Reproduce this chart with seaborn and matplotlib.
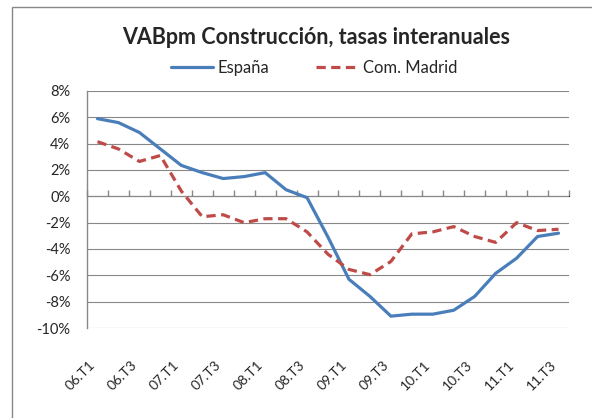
"""
VABpm Construcción: tasas interanuales, España vs Com. Madrid.
"""
import matplotlib
matplotlib.use("Agg")
import numpy as np
import pandas as pd
import matplotlib.pyplot as plt
import matplotlib.patches as mpatches
import seaborn as sns

# Datos (%)
periodos = ["06.T1", "06.T2", "06.T3", "06.T4", "07.T1", "07.T2", "07.T3", "07.T4",
            "08.T1", "08.T2", "08.T3", "08.T4", "09.T1", "09.T2", "09.T3", "09.T4",
            "10.T1", "10.T2", "10.T3", "10.T4", "11.T1", "11.T2", "11.T3"]
espana = [5.9, 5.6, 4.85, 3.6, 2.35, 1.8, 1.35, 1.5, 1.8, 0.5, -0.1, -3.1,
          -6.3, -7.6, -9.1, -8.95, -8.95, -8.65, -7.6, -5.85, -4.7, -3.05, -2.8]
madrid = [4.15, 3.6, 2.65, 3.1, 0.4, -1.55, -1.4, -2.0, -1.7, -1.7, -2.7, -4.4,
          -5.55, -5.95, -4.95, -2.85, -2.7, -2.3, -3.05, -3.5, -2.0, -2.6, -2.5]
series = ["España", "Com. Madrid"]
yticks = [-10, -8, -6, -4, -2, 0, 2, 4, 6, 8]

GRIS = "#888888"
COLORES = {"España": "#4A7EBB", "Com. Madrid": "#BE4B48"}

df = pd.DataFrame({
    "periodo": periodos * 2,
    "serie": [series[0]] * len(periodos) + [series[1]] * len(periodos),
    "valor": espana + madrid,
})

sns.set_style("white")
plt.rcParams["font.family"] = ["Lato", "DejaVu Sans"]

W, H = 592, 418
fig = plt.figure(figsize=(W / 100, H / 100), dpi=100)
ax = fig.add_axes([87 / W, 1 - 328 / H, (569 - 87) / W, (328 - 91) / H])

sns.lineplot(
    data=df, x="periodo", y="valor", hue="serie", style="serie",
    palette=COLORES, dashes={"España": "", "Com. Madrid": (2.9, 1.7)},
    sort=False, linewidth=2.3, ax=ax, legend=True,
)

# Ejes
ymin, ymax = yticks[0], yticks[-1]
ax.set_ylim(ymin, ymax)
ax.set_xlim(-0.5, len(periodos) - 0.5)
ax.set_xlabel("")
ax.set_ylabel("")
ax.set_yticks(yticks)
ax.set_yticklabels([f"{v}%" for v in yticks], fontsize=10.5)
ax.yaxis.grid(True, color=GRIS, linewidth=0.8)
ax.set_axisbelow(True)
ax.tick_params(axis="y", direction="out", length=4, color=GRIS, pad=8)

pos = np.arange(len(periodos))
ax.set_xticks(pos[::2])
ax.set_xticklabels(periodos[::2], rotation=45, ha="right", fontsize=10)
ax.tick_params(axis="x", length=0, pad=22)

for lado in ["top", "right", "bottom"]:
    ax.spines[lado].set_visible(False)
ax.spines["left"].set_color(GRIS)
ax.spines["left"].set_linewidth(1.0)

# Eje de categorías cruzando en 0 con marcas entre categorías
sec = ax.secondary_xaxis((0 - ymin) / (ymax - ymin))
sec.set_xticks(np.arange(-0.5, len(periodos), 1.0))
sec.set_xticklabels([])
sec.tick_params(direction="out", length=4, color=GRIS, width=1.0)
sec.spines["bottom"].set_color(GRIS)
sec.spines["bottom"].set_linewidth(1.2)

# Leyenda y título
handles, labels = ax.get_legend_handles_labels()
ax.get_legend().remove()
fig.legend(handles, labels, loc="center", bbox_to_anchor=(314 / W, 1 - 68 / H),
           ncol=2, frameon=False, fontsize=12, handlelength=2.5,
           columnspacing=2.8, handletextpad=0.3)
fig.text(316 / W, 1 - 37 / H, "VABpm Construcción, tasas interanuales",
         ha="center", va="center", fontsize=15.5, fontweight="bold")

# Marco del gráfico
fig.patches.append(mpatches.Rectangle(
    (12 / W, -0.05), 1.0, 1.05 - 7 / H, transform=fig.transFigure,
    fill=False, edgecolor=GRIS, linewidth=1.0))

fig.savefig("out.png", dpi=100)
plt.close(fig)
